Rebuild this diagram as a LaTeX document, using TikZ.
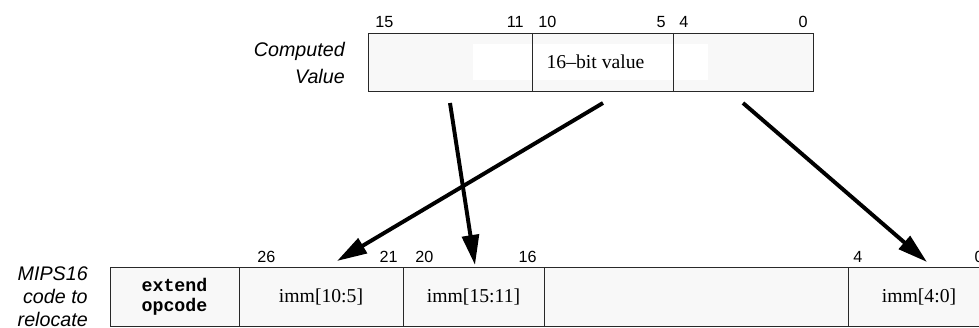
\documentclass[tikz,border=0pt]{standalone}
\usepackage{fontspec}
\setmainfont{Liberation Serif}
\setsansfont{Liberation Sans}
\setmonofont{Liberation Mono}
\usetikzlibrary{positioning,arrows.meta}
\definecolor{cfield}{RGB}{248,248,248}
\definecolor{cline}{RGB}{40,40,40}

\begin{document}
\begin{tikzpicture}[
  font=\fontsize{14}{17}\selectfont,
  >={Triangle[length=7.5mm,width=4.2mm]},
  field/.style={draw=cline,fill=cfield,line width=0.7pt,inner sep=0pt,outer sep=0pt,
                minimum height=1.475cm},
  bitlbl/.style={font=\sffamily\fontsize{11.5}{13}\selectfont,inner sep=0pt},
  sidelbl/.style={font=\sffamily\itshape\fontsize{14}{19}\selectfont,align=right,inner sep=0pt},
  moveto/.style={->,line width=2.8pt},
]
\useasboundingbox (0,0) rectangle (24.475,-8.2);
\clip (0,0) rectangle (24.475,-8.2);

% ===== COMPUTED VALUE =====
\node[sidelbl,anchor=east] (cv) at (8.625,-1.575) {Computed\\Value};
\node[field,minimum width=11.125cm,minimum height=1.45cm] (val) at (14.7625,-1.55) {};
\node[fill=white,minimum width=5.875cm,minimum height=0.9cm,inner sep=0pt] (valtxt)
  at (14.7625,-1.55) {\hspace*{0.25cm}16--bit value};
\draw[cline,line width=0.7pt] (13.3,-0.825) -- (13.3,-2.275);
\draw[cline,line width=0.7pt] (16.825,-0.825) -- (16.825,-2.275);
\node[bitlbl,anchor=base west] (t15) at (9.375,-0.7) {15};
\node[bitlbl,anchor=base east] (t11) at (13.1,-0.7) {11};
\node[bitlbl,anchor=base west] (t10) at (13.45,-0.7) {10};
\node[bitlbl,anchor=base east] (t5) at (16.65,-0.7) {5};
\node[bitlbl,anchor=base west] (t4) at (16.975,-0.7) {4};
\node[bitlbl,anchor=base east] (t0) at (20.2,-0.7) {0};

% ===== MIPS16 INSTRUCTION =====
\node[sidelbl,anchor=east,font=\sffamily\itshape\fontsize{14}{16.4}\selectfont] (mc)
  at (2.2,-7.425) {MIPS16\\code to\\relocate};
\node[field,minimum width=3.225cm,align=center,
      font=\ttfamily\bfseries\fontsize{13}{14.5}\selectfont] (ext) at (4.3625,-7.4125) {extend\\opcode};
\node[field,minimum width=4.1cm,right=0pt of ext] (lo) {imm[10:5]};
\node[field,minimum width=3.525cm,right=0pt of lo] (hi) {imm[15:11]};
\node[field,minimum width=7.6cm,right=0pt of hi] (gap) {};
\node[field,minimum width=3.55cm,right=0pt of gap] (low) {imm[4:0]};
\node[bitlbl,anchor=base west] (b26) at (6.425,-6.55) {26};
\node[bitlbl,anchor=base east] (b21) at (9.95,-6.55) {21};
\node[bitlbl,anchor=base west] (b20) at (10.375,-6.55) {20};
\node[bitlbl,anchor=base east] (b16) at (13.425,-6.55) {16};
\node[bitlbl,anchor=base west] (b4) at (21.325,-6.55) {4};
\node[bitlbl,anchor=base east] (b0) at (24.6,-6.55) {0};

% ===== arrows =====
\coordinate (s-mid) at (15.075,-2.575);
\coordinate (d-mid) at (8.425,-6.525);
\coordinate (s-hi) at (11.25,-2.575);
\coordinate (d-hi) at (11.875,-6.625);
\coordinate (s-low) at (18.575,-2.575);
\coordinate (d-low) at (23.175,-6.55);
\draw[moveto] (s-mid) -- (d-mid);
\draw[moveto] (s-hi) -- (d-hi);
\draw[moveto] (s-low) -- (d-low);

\end{tikzpicture}
\end{document}
